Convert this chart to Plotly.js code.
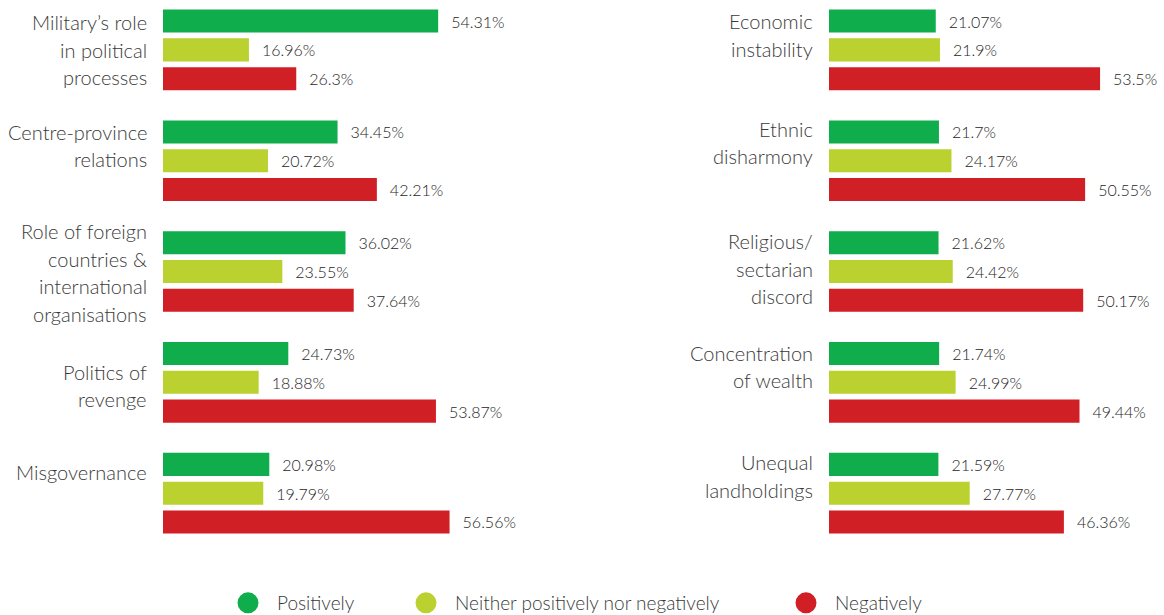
<!DOCTYPE html>
<html>
<head>
<meta charset="utf-8">
<script src="https://cdn.plot.ly/plotly-3.0.1.min.js"></script>
<style>html,body{margin:0;padding:0;background:#fff;}#chart{width:1164px;height:615px;}</style>
</head>
<body>
<div id="chart"></div>
<script>
// ---- data ----
const seriesNames = ["Positively", "Neither positively nor negatively", "Negatively"];
const leftCategories = [
  "Military’s role<br>in political<br>processes",
  "Centre-province<br>relations",
  "Role of foreign<br>countries &<br>international<br>organisations",
  "Politics of<br>revenge",
  "Misgovernance"
];
const leftPositive = [54.31, 34.45, 36.02, 24.73, 20.98];
const leftNeither  = [16.96, 20.72, 23.55, 18.88, 19.79];
const leftNegative = [26.3, 42.21, 37.64, 53.87, 56.56];

const rightCategories = [
  "Economic<br>instability",
  "Ethnic<br>disharmony",
  "Religious/<br>sectarian<br>discord",
  "Concentration<br>of wealth",
  "Unequal<br>landholdings"
];
const rightPositive = [21.07, 21.7, 21.62, 21.74, 21.59];
const rightNeither  = [21.9, 24.17, 24.42, 24.99, 27.77];
const rightNegative = [53.5, 50.55, 50.17, 49.44, 46.36];

// ---- styling / layout helpers ----
const colors = ["#0fad4b", "#bad130", "#d11f26"];
const leftLabelShift = [0, -15, 1, 3, -21];
const rightLabelShift = [-15, -18, -3, -16, -17];
const LINE = 27.5;
const FONT = "Lato, 'Open Sans', sans-serif";
const TXT = "#3a3a3a";
const legendIds = ["legend", "legend2", "legend3"];
const legendX = [219 / 1164, 397 / 1164, 777 / 1164];

const traces = [];
function addPanel(cats, vals, xa, ya) {
  const ids = cats.map(c => c.replace(/<br>/g, " "));
  vals.forEach((v, k) => {
    traces.push({
      type: "bar", orientation: "h",
      x: v, y: ids,
      xaxis: xa, yaxis: ya,
      name: seriesNames[k],
      marker: {color: colors[k]},
      text: v.map(n => "\u2002\u2009" + n + "%"),
      textposition: "outside",
      textfont: {family: FONT, size: 16, color: "#262626", weight: 300},
      constraintext: "none",
      cliponaxis: false,
      showlegend: false,
      hoverinfo: "skip"
    });
  });
}
addPanel(leftCategories, [leftPositive, leftNeither, leftNegative], "x", "y");
addPanel(rightCategories, [rightPositive, rightNeither, rightNegative], "x2", "y2");

// legend entries (one legend box per series so the spacing can follow the reference)
seriesNames.forEach((n, k) => {
  traces.push({
    type: "scatter", mode: "markers", x: [null], y: [null],
    xaxis: "x", yaxis: "y",
    name: n, legend: legendIds[k],
    marker: {color: colors[k], size: 16, symbol: "circle", line: {color: colors[k], width: 5}},
    showlegend: true
  });
});

const annotations = [];
function addLabels(cats, shifts, xref, yref) {
  cats.forEach((c, i) => {
    const id = c.replace(/<br>/g, " ");
    const lines = c.split("<br>");
    lines.forEach((ln, j) => {
      annotations.push({
        xref: xref, yref: yref, x: 0, y: id,
        text: ln, showarrow: false,
        xanchor: "right", yanchor: "middle",
        xshift: -14,
        yshift: -((j - (lines.length - 1) / 2) * LINE + shifts[i]),
        font: {family: FONT, size: 20, color: TXT, weight: 300}
      });
    });
  });
}
addLabels(leftCategories, leftLabelShift, "x", "y");
addLabels(rightCategories, rightLabelShift, "x2", "y2");

const yCommon = {
  type: "category", range: [4.55, -0.45], domain: [0.099, 1],
  showticklabels: false, showgrid: false, zeroline: false, showline: false, ticks: ""
};
const xCommon = {
  range: [0, 60], showticklabels: false, showgrid: false, zeroline: false, showline: false, ticks: "", fixedrange: true
};

function legendBox(i) {
  return {
    orientation: "h", x: legendX[i], xanchor: "left",
    y: 12 / 615, yanchor: "middle",
    font: {family: FONT, size: 19, color: TXT, weight: 300},
    itemsizing: "trace", itemwidth: 48, bgcolor: "rgba(0,0,0,0)"
  };
}

const layout = {
  width: 1164, height: 615,
  margin: {l: 0, r: 0, t: 0, b: 0, autoexpand: false},
  paper_bgcolor: "#ffffff", plot_bgcolor: "#ffffff",
  barmode: "group", bargap: 0.221, bargroupgap: 0.2,
  font: {family: FONT, color: TXT},
  xaxis: Object.assign({}, xCommon, {domain: [163 / 1164, (163 + 304) / 1164], anchor: "y"}),
  yaxis: Object.assign({}, yCommon, {anchor: "x"}),
  xaxis2: Object.assign({}, xCommon, {domain: [829 / 1164, (829 + 304) / 1164], anchor: "y2"}),
  yaxis2: Object.assign({}, yCommon, {anchor: "x2"}),
  showlegend: true,
  legend: legendBox(0),
  legend2: legendBox(1),
  legend3: legendBox(2),
  annotations: annotations
};

Plotly.newPlot("chart", traces, layout, {displayModeBar: false, staticPlot: true});
</script>
</body>
</html>
